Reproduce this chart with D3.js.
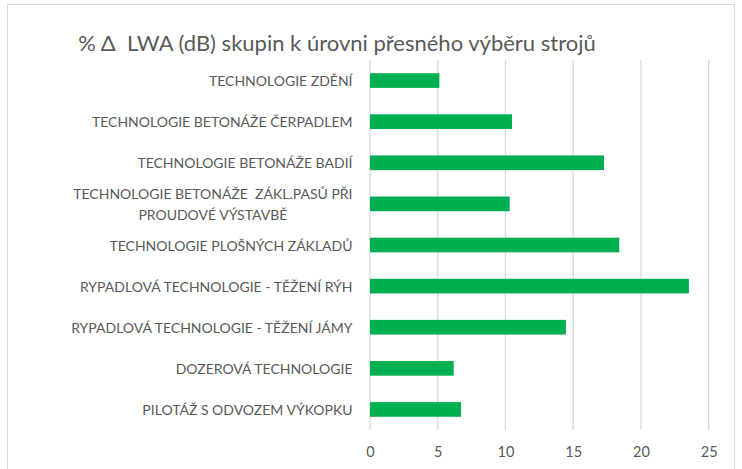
<!DOCTYPE html>
<html><head><meta charset="utf-8">
<script src="https://cdn.jsdelivr.net/npm/d3@7"></script>
<style>
html,body{margin:0;padding:0;background:#fff;}
svg{display:block;font-family:Lato,"Open Sans",sans-serif;}
text{white-space:pre;}
</style></head>
<body>
<svg id="chart" width="742" height="469"></svg>
<script>
const title = "% Δ  LWA (dB) skupin k úrovni přesného výběru strojů";
const categories = [
  ["TECHNOLOGIE ZDĚNÍ"],
  ["TECHNOLOGIE BETONÁŽE ČERPADLEM"],
  ["TECHNOLOGIE BETONÁŽE BADIÍ"],
  ["TECHNOLOGIE BETONÁŽE  ZÁKL.PASŮ PŘI", "PROUDOVÉ VÝSTAVBĚ"],
  ["TECHNOLOGIE PLOŠNÝCH ZÁKLADŮ"],
  ["RYPADLOVÁ TECHNOLOGIE - TĚŽENÍ RÝH"],
  ["RYPADLOVÁ TECHNOLOGIE - TĚŽENÍ JÁMY"],
  ["DOZEROVÁ TECHNOLOGIE"],
  ["PILOTÁŽ S ODVOZEM VÝKOPKU"]
];
const values = [5.12, 10.48, 17.27, 10.31, 18.4, 23.54, 14.46, 6.18, 6.72];
const xTicks = [0, 5, 10, 15, 20, 25];

const svg = d3.select("#chart");
const plot = {left: 370, right: 708.7, top: 60, bottom: 430};

// chart border
svg.append("rect").attr("x", 7.5).attr("y", 4.5).attr("width", 727).attr("height", 480)
  .attr("fill", "#fff").attr("stroke", "#d9d9d9").attr("stroke-width", 1);

const keys = categories.map(c => c.join(" "));
const x = d3.scaleLinear().domain([0, 25]).range([plot.left, plot.right]);
const y = d3.scaleBand().domain(keys).range([plot.top, plot.bottom])
  .paddingInner(0.643).paddingOuter(0.3215);

// gridlines
svg.append("g").selectAll("line").data(xTicks).join("line")
  .attr("x1", d => x(d)).attr("x2", d => x(d))
  .attr("y1", plot.top).attr("y2", plot.bottom)
  .attr("stroke", "#d9d9d9").attr("stroke-width", 1.3);

// bars
svg.append("g").selectAll("rect").data(values).join("rect")
  .attr("x", x(0)).attr("y", (d, i) => y(keys[i]))
  .attr("width", d => x(d) - x(0)).attr("height", y.bandwidth())
  .attr("fill", "#00b050");

// x axis tick labels
const xAxis = d3.axisBottom(x).tickValues(xTicks).tickSize(0).tickPadding(0);
const gx = svg.append("g").attr("transform", `translate(0,${plot.bottom})`).call(xAxis);
gx.select(".domain").remove();
gx.selectAll("text").attr("font-family", "Lato").attr("font-size", 14.5)
  .attr("fill", "#595959").attr("dy", null).attr("y", 27);

// category labels
const labelRight = 352.5;
const lg = svg.append("g").attr("font-size", 14).attr("fill", "#595959");
categories.forEach((lines, i) => {
  const cy = y(keys[i]) + y.bandwidth() / 2;
  if (lines.length === 1) {
    lg.append("text").attr("x", labelRight).attr("y", cy + 5.5)
      .attr("text-anchor", "end").text(lines[0]);
  } else {
    const t = lg.append("text").attr("text-anchor", "middle");
    const tmp = lg.append("text").text(lines[0]);
    const w0 = tmp.node().getComputedTextLength();
    tmp.remove();
    const cx = labelRight - w0 / 2;
    lines.forEach((ln, j) => {
      t.append("tspan").attr("x", cx)
        .attr("y", cy + 5.5 + (j - (lines.length - 1) / 2) * 21.5).text(ln);
    });
  }
});

// title
svg.append("text").attr("x", 337).attr("y", 50.5).attr("text-anchor", "middle")
  .attr("font-size", 22).attr("fill", "#595959").text(title);
</script>
</body></html>
